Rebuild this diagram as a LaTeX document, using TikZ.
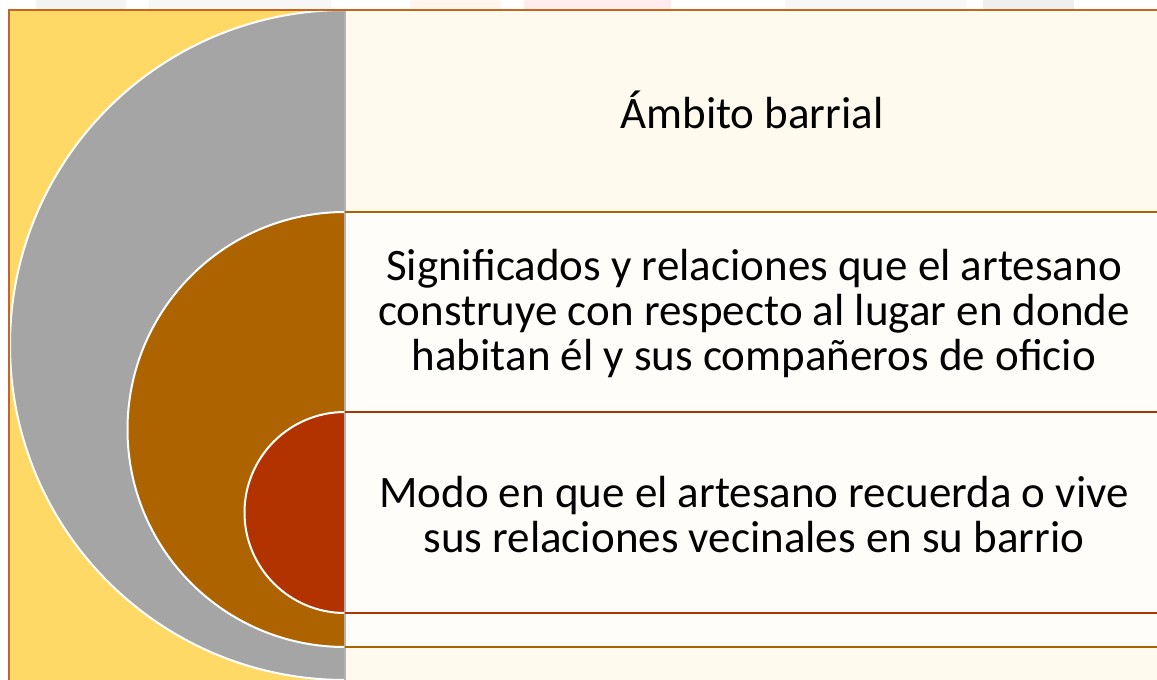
\documentclass[tikz,border=0pt]{standalone}
\usepackage{fontspec}
\setmainfont{Carlito}
\usepackage{tikz}
\usetikzlibrary{positioning}
\usepackage{xcolor}
\definecolor{frameOrange}{HTML}{C5651F}
\definecolor{sunYellow}{HTML}{FFD966}
\definecolor{ringGray}{HTML}{A5A5A5}
\definecolor{ringBrown}{HTML}{AD6300}
\definecolor{ringRed}{HTML}{B33300}
\definecolor{panelCream}{HTML}{FFF9EE}
\definecolor{panelWhite}{HTML}{FFFDFA}

\begin{document}
\begin{tikzpicture}[
    x=1pt, y=-1pt,
    ring/.style={draw=white, line width=2pt},
    sep/.style={line width=2.6pt},
    mark0/.style={opacity=0.6},
    txt/.style={font=\fontsize{45}{45}\selectfont, align=center, inner sep=0pt},
]
\useasboundingbox (0,0) rectangle (1157,680);
% faint strips above the frame
\fill[black!8, mark0] (36,0) rectangle (126,10);
\fill[black!5, mark0] (149,0) rectangle (331,10);
\fill[orange!12, mark0] (410,0) rectangle (501,10);
\fill[red!12, mark0] (524,0) rectangle (671,10);
\fill[black!5, mark0] (785,0) rectangle (966,10);
\fill[black!10, mark0] (983,0) rectangle (1074,10);
% panels
\fill[sunYellow] (9,10) rectangle (345,680);
\fill[panelCream] (345,10) rectangle (1157,212);
\fill[panelWhite] (345,212) rectangle (1157,647);
\fill[panelCream] (345,647) rectangle (1157,680);
% half rings
\filldraw[ring, fill=ringGray] (345,10) arc[start angle=-90, end angle=-270, radius=335] -- cycle;
\filldraw[ring, fill=ringBrown] (345,212) arc[start angle=-90, end angle=-270, radius=217.5] -- cycle;
\filldraw[ring, fill=ringRed] (345,412) arc[start angle=-90, end angle=-270, radius=100.5] -- cycle;
\draw[black!30, line width=1.5pt] (345,10) -- (345,680);
% separators
\draw[sep, ringBrown] (345,212) -- (1157,212);
\draw[sep, ringRed] (345,412) -- (1157,412);
\draw[sep, ringRed] (345,613) -- (1157,613);
\draw[sep, ringBrown] (345,647) -- (1157,647);
% frame
\draw[frameOrange, line width=2pt] (9,680) -- (9,10) -- (1157,10);
% labels
\node[txt] (ambito) at (752,110) {Ámbito barrial};
\node[txt] (significados) at (754,313) {Significados y relaciones que el artesano\\construye con respecto al lugar en donde\\habitan él y sus compañeros de oficio};
\node[txt] (modo) at (754,515) {Modo en que el artesano recuerda o vive\\sus relaciones vecinales en su barrio};
\end{tikzpicture}
\end{document}
